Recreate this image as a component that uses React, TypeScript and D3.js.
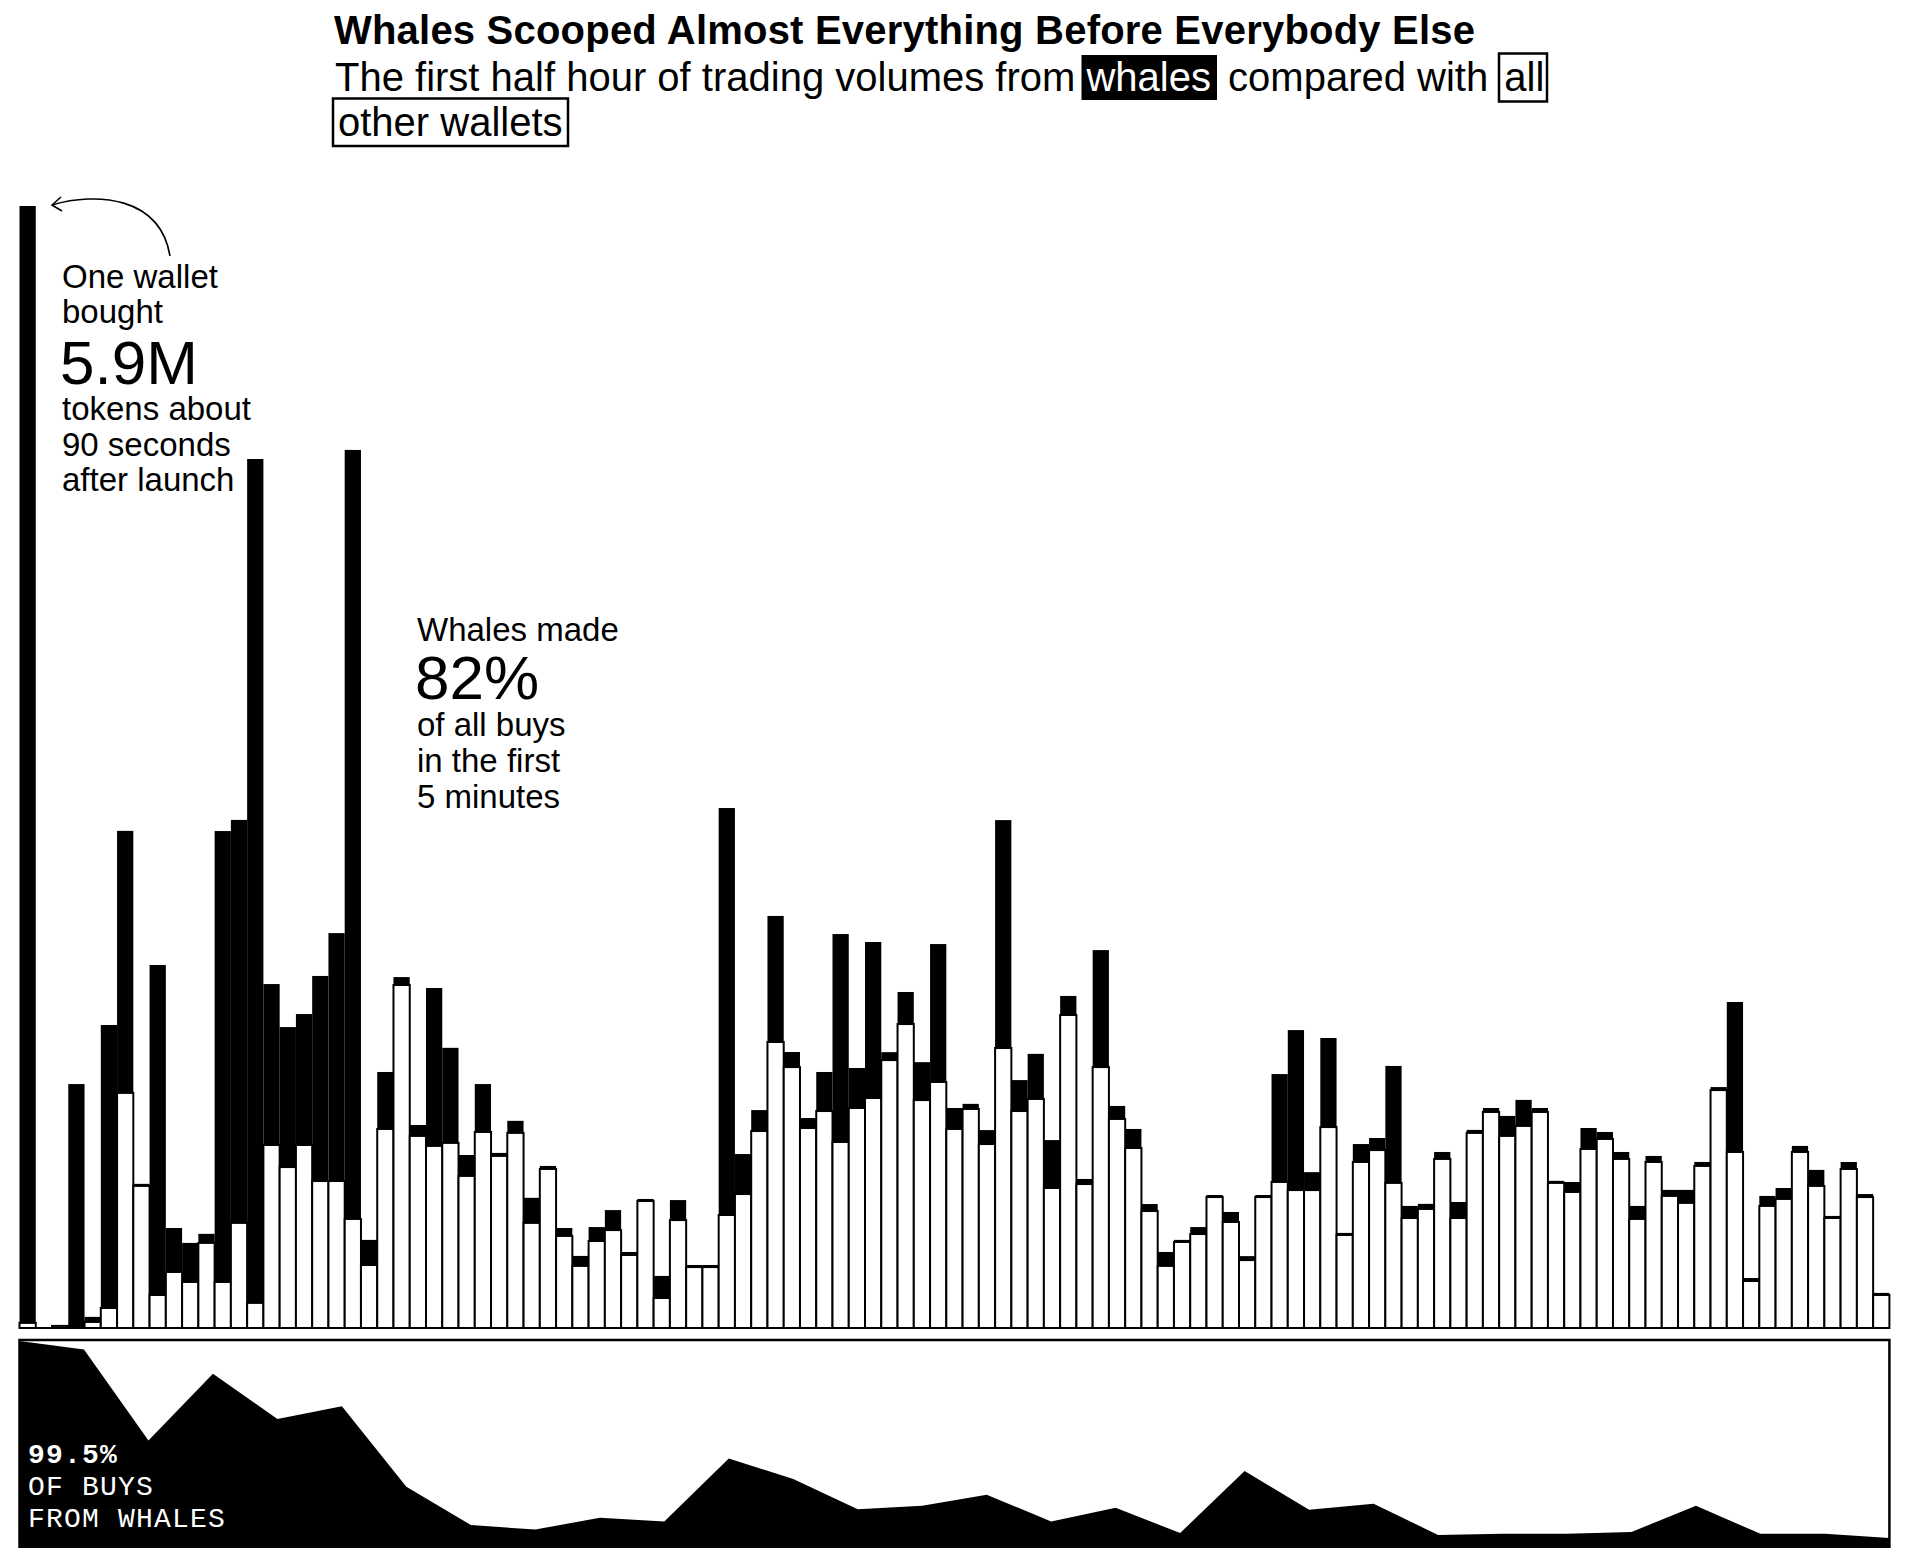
import * as d3 from "d3";

// thousand tokens bought in each 15-second interval, all other wallets
const otherBuys = [
  27, 0, 11, 0, 32, 106, 1246, 753, 175, 297,
  244, 451, 244, 557, 133, 970, 853, 970, 779, 779,
  578, 334, 1055, 1818, 1018, 965, 981, 806, 1039, 912,
  1034, 557, 843, 488, 329, 461, 519, 387, 673, 159,
  572, 323, 323, 599, 710, 1044, 1516, 1383, 1060, 1150,
  986, 1166, 1219, 1420, 1611, 1208, 1304, 1055, 1161, 975,
  1484, 1150, 1214, 742, 1659, 763, 1383, 1108, 954, 620,
  329, 456, 498, 694, 562, 360, 694, 774, 731, 731,
  1065, 493, 880, 943, 769, 583, 631, 896, 583, 1034,
  1145, 1018, 1071, 1145, 769, 721, 949, 1002, 896, 578,
  880, 700, 663, 859, 1261, 933, 249, 647, 684, 933,
  753, 583, 843, 694, 175,
];

// thousand tokens bought in each 15-second interval, whales
const whaleBuys = [
  5920, 0, 0, 1293, 27, 1500, 1389, 11, 1749, 233,
  207, 48, 2390, 2136, 4473, 853, 742, 694, 1087, 1314,
  4076, 133, 302, 42, 58, 837, 504, 111, 254, 16,
  64, 133, 16, 42, 53, 74, 106, 16, 11, 117,
  106, 11, 11, 2157, 212, 111, 668, 80, 53, 207,
  1102, 212, 827, 42, 170, 201, 731, 111, 27, 74,
  1208, 164, 239, 254, 101, 27, 620, 69, 101, 37,
  74, 11, 37, 11, 53, 21, 11, 572, 848, 95,
  472, 11, 95, 64, 620, 64, 27, 37, 85, 16,
  21, 106, 138, 21, 11, 53, 111, 37, 37, 69,
  32, 32, 69, 21, 16, 795, 16, 53, 58, 32,
  85, 11, 37, 16, 11,
];

// share of buys made by whales, one point per minute (%)
const whaleShare = [
  99.5, 95.4, 51.7, 83.8, 62.0, 68.1, 29.5, 11.0, 8.9, 14.5,
  12.8, 43.0, 33.2, 18.6, 20.3, 25.6, 12.8, 19.3, 7.2, 37.0,
  18.4, 21.3, 6.3, 6.8, 6.8, 7.7, 20.3, 6.8, 6.8, 4.8,
];

const sans = "'Liberation Sans', Arial, Helvetica, sans-serif";
const mono = "'Liberation Mono', 'DejaVu Sans Mono', monospace";

const W = 1907;
const H = 1548;
const left = 19.5;
const right = 1889.4;
const barTop = 206;
const base = 1328;
const stripTop = 1340;
const stripBottom = 1548;

export default function App() {
  const idx = d3.range(whaleBuys.length);
  const totals = idx.map((i) => whaleBuys[i] + otherBuys[i]);

  const x = d3.scaleBand<number>().domain(idx).range([left, right]).padding(0);
  const y = d3.scaleLinear().domain([0, d3.max(totals) || 1]).range([base, barTop]);

  const sx = d3.scaleLinear().domain([0, whaleShare.length - 1]).range([left, right]);
  const sy = d3.scaleLinear().domain([0, 100]).range([stripBottom, stripTop]);
  const area = d3.area<number>()
    .x((_, i) => sx(i))
    .y0(sy(0))
    .y1((d) => sy(d));

  return (
    <div style={{ position: "fixed", inset: 0, background: "#fff" }}>
      <svg width={W} height={H} style={{ display: "block" }}>
        {/* Title block */}
        <text x={334} y={44} fontFamily={sans} fontWeight={700} fontSize={40} fill="#000"
          textLength={1141} lengthAdjust="spacing">
          Whales Scooped Almost Everything Before Everybody Else
        </text>
        <rect x={1081.5} y={55} width={135.5} height={45} fill="#000" />
        <rect x={1499} y={53.5} width={48} height={48} fill="none" stroke="#000" strokeWidth={2.5} />
        <rect x={333} y={98.5} width={235} height={47.5} fill="none" stroke="#000" strokeWidth={2.5} />
        <text x={335} y={91} fontFamily={sans} fontSize={40} fill="#000" style={{ whiteSpace: "pre" }}>
          {"The first half hour of trading volumes from "}
          <tspan fill="#fff">whales</tspan>
          <tspan dx={6}>{" compared with "}</tspan>
          <tspan dx={5}>all</tspan>
        </text>
        <text x={338} y={136} fontFamily={sans} fontSize={40} fill="#000">
          other wallets
        </text>

        {/* Stacked bars: others (white) below, whales (black) on top */}
        <g>
          {idx.map((i) => (
            <rect
              key={`o${i}`}
              x={x(i)}
              y={y(otherBuys[i])}
              width={x.bandwidth()}
              height={base - y(otherBuys[i])}
              fill="#fff"
              stroke="#000"
              strokeWidth={2}
            />
          ))}
          {idx.map((i) => (
            <rect
              key={`w${i}`}
              x={x(i)}
              y={y(totals[i])}
              width={x.bandwidth()}
              height={y(otherBuys[i]) - y(totals[i])}
              fill="#000"
            />
          ))}
        </g>
        <line x1={left} x2={right} y1={base} y2={base} stroke="#000" strokeWidth={2} />

        {/* Annotations */}
        <path d="M170,256 C160,196 96,192 52,205" fill="none" stroke="#000" strokeWidth={1.6} />
        <path d="M61,197 L52,205 L62,211" fill="none" stroke="#000" strokeWidth={1.6} />
        <g fontFamily={sans} fill="#000">
          <text x={62} y={288} fontSize={33}>One wallet</text>
          <text x={62} y={323} fontSize={33}>bought</text>
          <text x={60} y={384} fontSize={62}>5.9M</text>
          <text x={62} y={420} fontSize={33}>tokens about</text>
          <text x={62} y={456} fontSize={33}>90 seconds</text>
          <text x={62} y={491} fontSize={33}>after launch</text>

          <text x={417} y={641} fontSize={33}>Whales made</text>
          <text x={415} y={699} fontSize={62}>82%</text>
          <text x={417} y={736} fontSize={33}>of all buys</text>
          <text x={417} y={772} fontSize={33}>in the first</text>
          <text x={417} y={808} fontSize={33}>5 minutes</text>
        </g>

        {/* Whale share strip */}
        <path d={area(whaleShare) || ""} fill="#000" />
        <rect x={left} y={stripTop} width={right - left} height={240} fill="none" stroke="#000" strokeWidth={2.5} />
        <g fontFamily={mono} fill="#fff" fontSize={28} letterSpacing={1.2}>
          <text x={28} y={1463} fontWeight={700}>99.5%</text>
          <text x={28} y={1495}>OF BUYS</text>
          <text x={28} y={1527}>FROM WHALES</text>
        </g>
      </svg>
    </div>
  );
}
